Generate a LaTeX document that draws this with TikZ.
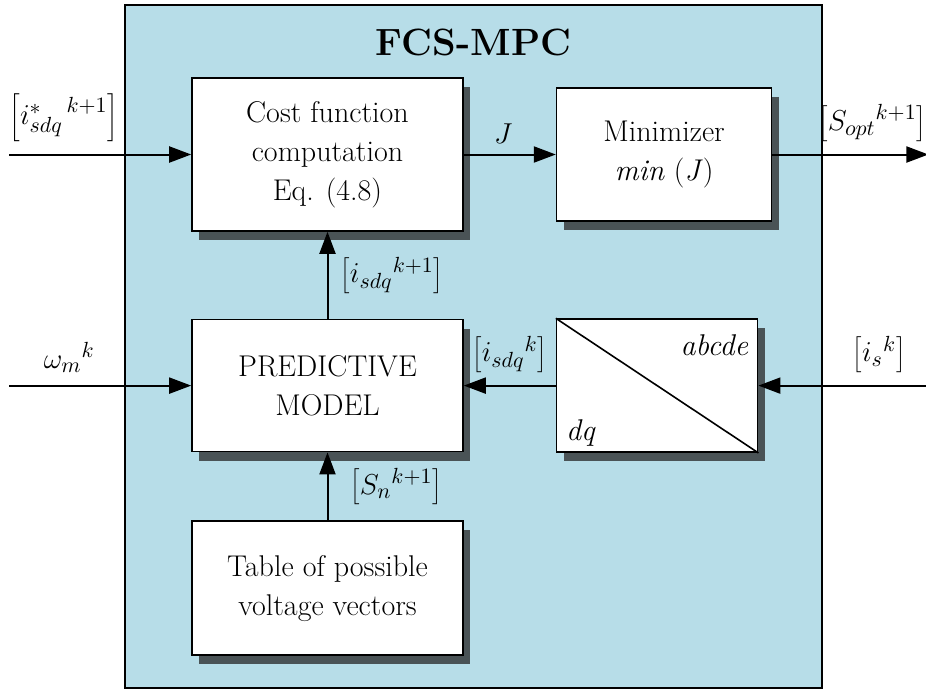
\documentclass[tikz,border=0pt]{standalone}
\usetikzlibrary{arrows.meta,positioning,calc,shadows}
\definecolor{mpcblue}{HTML}{B7DDE8}

\begin{document}
\begin{tikzpicture}[
  x=0.5pt, y=-0.5pt,
  font=\fontsize{15}{19.5}\selectfont,
  panel/.style={draw=black, line width=1.2pt, fill=mpcblue,
                minimum width=348.5pt, minimum height=341.5pt},
  block/.style={draw=black, line width=0.8pt, fill=white, align=center,
                drop shadow={shadow xshift=3.5pt, shadow yshift=-4.5pt,
                             fill=black!85, opacity=0.75}},
  arrow/.style={-{Triangle[length=11pt,width=8pt]}, line width=1pt},
  sig/.style={inner sep=1pt},
]
  \useasboundingbox (0,0) rectangle (926,692);

  %% Controller frame and title
  \node[panel] (mpc) at (473.5,346.5) {};
  \node[font=\fontsize{19}{22}\selectfont\bfseries, below=9pt of mpc.north] (title) {FCS-MPC};

  %% Blocks
  \node[block, minimum width=135.5pt, minimum height=76.5pt] (cost) at (327.5,154.5)
    {Cost function\\computation\\Eq. (4.8)};
  \node[block, minimum width=107.5pt, minimum height=66.5pt, right=46pt of cost] (mini)
    {Minimizer\\\textit{min} (\textit{J})};
  \node[block, minimum width=135.5pt, minimum height=66pt, below=43.5pt of cost] (pred)
    {PREDICTIVE\\MODEL};
  \node[block, minimum width=100.5pt, minimum height=66.5pt, right=46pt of pred] (conv) {};
  \node[block, minimum width=135.5pt, minimum height=67pt, below=34pt of pred] (table)
    {Table of possible\\voltage vectors};

  %% Transformation block contents
  \draw[line width=0.8pt] (conv.north west) -- (conv.south east);
  \node[inner sep=0pt, anchor=north east, font=\fontsize{15}{18}\selectfont\itshape]
    (abc) at ([xshift=-5pt, yshift=-8pt]conv.north east) {abcde};
  \node[inner sep=0pt, anchor=south west, font=\fontsize{15}{18}\selectfont\itshape]
    (dq) at ([xshift=5pt, yshift=3pt]conv.south west) {dq};

  %% Free ends of the outer signals
  \coordinate (iref) at ([xshift=-91pt]cost.west);
  \coordinate (sopt) at ([xshift=78pt]mini.east);
  \coordinate (wm)   at ([xshift=-91pt]pred.west);
  \coordinate (is)   at ([xshift=85pt]conv.east);

  %% Signal arrows
  \draw[arrow] (iref) -- (cost.west)
    node[sig, pos=0.3, above=5pt] {$\left[{i^{*}_{sdq}}^{\,k+1}\right]$};
  \draw[arrow] (cost.east) -- (mini.west)
    node[sig, pos=0.43, above=4pt] {$J$};
  \draw[arrow] (mini.east) -- (sopt)
    node[sig, pos=0.64, above=5pt] {$\left[{S_{opt}}^{k+1}\right]$};
  \draw[arrow] (wm) -- (pred.west)
    node[sig, pos=0.33, above=5pt] {${\omega_m}^{k}$};
  \draw[arrow] (is) -- (conv.east)
    node[sig, pos=0.29, above=5pt] {$\left[{i_s}^{k}\right]$};
  \draw[arrow] (conv.west) -- (pred.east)
    node[sig, pos=0.5, above=5pt] {$\left[{i_{sdq}}^{k}\right]$};
  \draw[arrow] (pred.north) -- (cost.south)
    node[sig, midway, right=5pt] {$\left[{i_{sdq}}^{k+1}\right]$};
  \draw[arrow] (table.north) -- (pred.south)
    node[sig, midway, right=10pt] {$\left[{S_n}^{k+1}\right]$};

\end{tikzpicture}
\end{document}
